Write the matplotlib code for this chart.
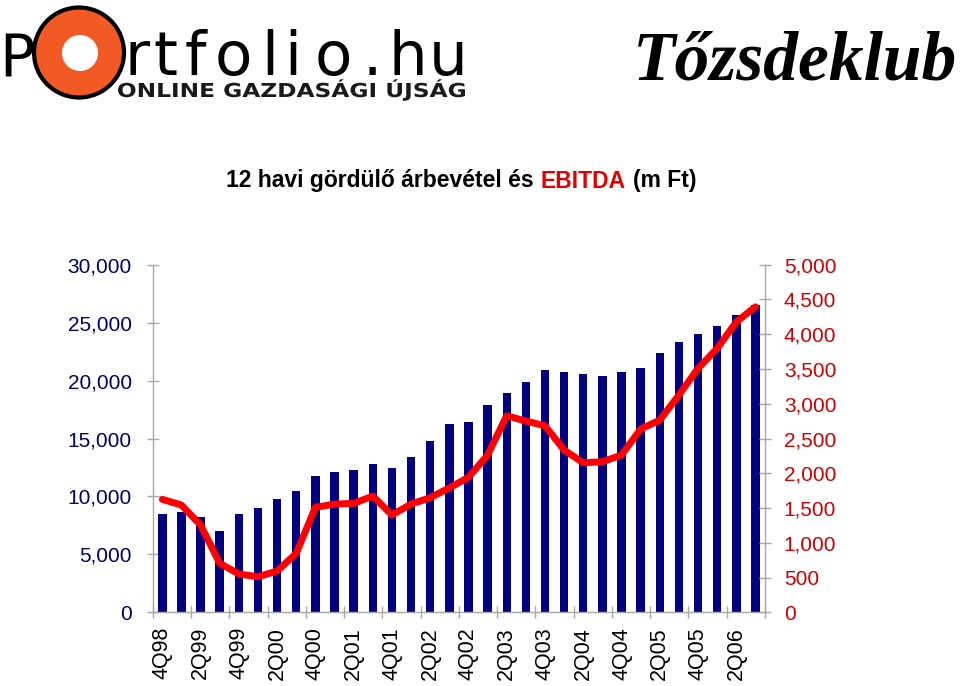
import matplotlib
matplotlib.use('Agg')
import matplotlib.pyplot as plt
from matplotlib.patches import Circle, PathPatch
from matplotlib.textpath import TextPath
from matplotlib.font_manager import FontProperties
from matplotlib.transforms import Affine2D
from matplotlib.offsetbox import TextArea, HPacker, AnchoredOffsetbox
from matplotlib.ticker import FuncFormatter, FixedLocator
import numpy as np

quarters = ['4Q98', '1Q99', '2Q99', '3Q99', '4Q99', '1Q00', '2Q00', '3Q00',
            '4Q00', '1Q01', '2Q01', '3Q01', '4Q01', '1Q02', '2Q02', '3Q02',
            '4Q02', '1Q03', '2Q03', '3Q03', '4Q03', '1Q04', '2Q04', '3Q04',
            '4Q04', '1Q05', '2Q05', '3Q05', '4Q05', '1Q06', '2Q06', '3Q06']
revenue = [8460, 8660, 8250, 7020, 8460, 9000, 9750, 10470,
           11740, 12080, 12260, 12800, 12430, 13380, 14790, 16250,
           16430, 17870, 18960, 19850, 20940, 20770, 20570, 20400,
           20770, 21110, 22380, 23300, 24020, 24740, 25630, 26550]
ebitda = [1625, 1543, 1255, 705, 551, 512, 594, 848,
          1510, 1557, 1567, 1672, 1400, 1557, 1648, 1790,
          1941, 2262, 2827, 2751, 2684, 2334, 2151, 2166,
          2262, 2636, 2765, 3125, 3509, 3796, 4178, 4394]
left_ticks = [0, 5000, 10000, 15000, 20000, 25000, 30000]
right_ticks = [0, 500, 1000, 1500, 2000, 2500, 3000, 3500, 4000, 4500, 5000]

navy = '#000080'
red = '#ff0000'
grey = '#a8a8a8'
comma = FuncFormatter(lambda v, p: '{:,.0f}'.format(v))

fig = plt.figure(figsize=(9.6, 6.86), dpi=100)
fig.patch.set_facecolor('white')

# header drawn in pixel coordinates
hd = fig.add_axes([0, 0, 1, 1])
hd.set_xlim(0, 960)
hd.set_ylim(686, 0)
hd.axis('off')

hd.add_patch(Circle((79, 52.5), 45, facecolor='#f15a24', edgecolor='black', linewidth=3))
hd.add_patch(Circle((80, 53), 18, facecolor='white', edgecolor='none'))
hd.text(-1, 75, 'P', fontsize=42, family='DejaVu Sans',
        ha='left', va='baseline', color='black')
logo_chars = 'rtfolio.hu'
logo_x = [137, 165, 195, 233, 270, 293, 333, 372, 408, 448]
for ch, cx in zip(logo_chars, logo_x):
    hd.text(cx, 75, ch, fontsize=44, family='DejaVu Sans',
            ha='center', va='baseline', color='black')

# stretched sub line of the logo
fp = FontProperties(family='DejaVu Sans', weight='bold')
tp = TextPath((0, 0), 'ONLINE GAZDASÁGI ÚJSÁG', size=10, prop=fp)
capref = TextPath((0, 0), 'N', size=10, prop=fp).get_extents()
ext = tp.get_extents()
sx = (465 - 118) / ext.width
sy = 14 / capref.height
tr = Affine2D().translate(-ext.x0, 0).scale(sx, -sy).translate(118, 97) + hd.transData
hd.add_patch(PathPatch(tp, transform=tr, facecolor='#1a1a1a', edgecolor='none'))

hd.text(957, 80, 'Tőzsdeklub', fontsize=50, family='Liberation Serif',
        fontweight='bold', fontstyle='italic', ha='right', va='baseline')

# title with red EBITDA
tprops = dict(fontsize=16.5, fontweight='bold', family='Liberation Sans', color='black')
rprops = dict(tprops, color='#e00000')
parts = HPacker(children=[TextArea('12 havi gördülő árbevétel és', textprops=tprops),
                          TextArea('EBITDA', textprops=rprops),
                          TextArea('(m Ft)', textprops=tprops)],
                align='baseline', pad=0, sep=5)
title_box = AnchoredOffsetbox(loc='center', child=parts, frameon=False, pad=0, borderpad=0,
                              bbox_to_anchor=(461 / 960, 1 - 181 / 686),
                              bbox_transform=fig.transFigure)
fig.add_artist(title_box)

# main chart
ax = fig.add_axes([0.1591, 0.1074, 0.6378, 0.5067])
x = np.arange(len(quarters))
ax.bar(x, revenue, width=0.44, color=navy, zorder=2)
ax.set_xlim(-0.5, len(quarters) - 0.5)
ax.set_ylim(0, 30000)
ax.set_yticks(left_ticks)
ax.yaxis.set_major_formatter(comma)
ax.tick_params(axis='y', direction='inout', length=9, width=1, color=grey,
               labelsize=15, labelcolor='#000066', pad=10.5)
ax.xaxis.set_major_locator(FixedLocator(np.arange(-0.5, len(quarters), 2)))
ax.xaxis.set_major_formatter(FuncFormatter(lambda v, p: ''))
ax.xaxis.set_minor_locator(FixedLocator(x[::2]))
ax.set_xticklabels(quarters[::2], minor=True)
ax.tick_params(axis='x', which='major', direction='inout', length=8, width=1, color=grey)
ax.tick_params(axis='x', which='minor', length=0, labelsize=15.5, labelrotation=90,
               labelcolor='black', pad=10.5)
for lab in ax.get_xticklabels(minor=True):
    lab.set_family('Liberation Sans')
for lab in ax.get_yticklabels():
    lab.set_family('Liberation Sans')
for s in ['top', 'right']:
    ax.spines[s].set_visible(False)
for s in ['left', 'bottom']:
    ax.spines[s].set_color(grey)
    ax.spines[s].set_linewidth(1)

ax2 = ax.twinx()
ax2.plot(x, ebitda, color=red, linewidth=5, solid_joinstyle='round',
         solid_capstyle='round', zorder=3)
ax2.set_ylim(0, 5000)
ax2.set_yticks(right_ticks)
ax2.yaxis.set_major_formatter(comma)
ax2.tick_params(axis='y', direction='inout', length=9, width=1, color=grey,
                labelsize=15, labelcolor='#cc0000', pad=9)
for lab in ax2.get_yticklabels():
    lab.set_family('Liberation Sans')
for s in ['top', 'left', 'bottom']:
    ax2.spines[s].set_visible(False)
ax2.spines['right'].set_color(grey)
ax2.spines['right'].set_linewidth(1)

fig.savefig('out.png', dpi=100, facecolor='white')
